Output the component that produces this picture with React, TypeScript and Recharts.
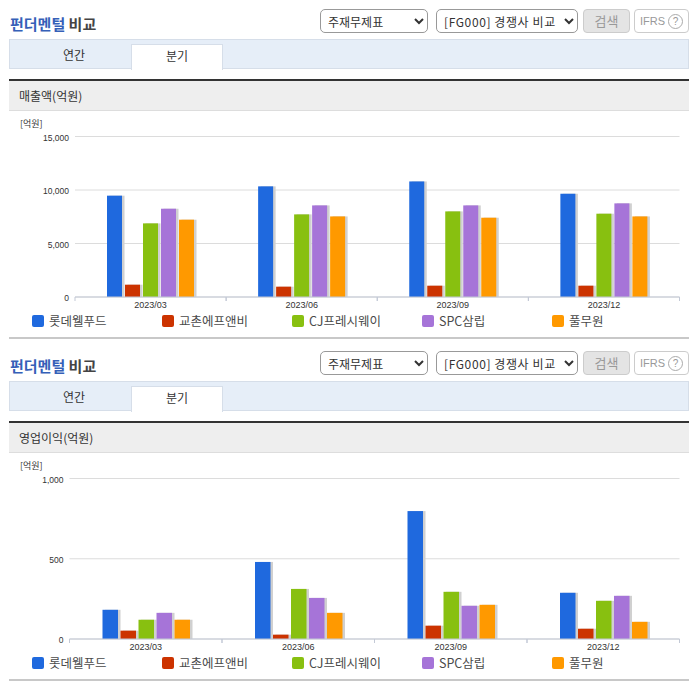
import { BarChart, Bar, XAxis, YAxis, CartesianGrid, Legend } from "recharts";

const FONT = '"Noto Sans CJK KR", "Noto Sans", sans-serif';
const TICK_FONT = '"Liberation Sans", Arial, sans-serif';

const QUARTERS = ["2023/03", "2023/06", "2023/09", "2023/12"];
const COMPANIES = ["롯데웰푸드", "교촌에프앤비", "CJ프레시웨이", "SPC삼립", "풀무원"];
const COLORS = ["#1f69de", "#cc3300", "#88c010", "#a674d8", "#ff9900"];
const LEGEND_X = [32, 162, 292, 422, 552];

const salesLotte = [9470, 10340, 10800, 9650];
const salesKyochon = [1150, 965, 1056, 1056];
const salesCj = [6880, 7720, 8000, 7785];
const salesSpc = [8250, 8560, 8560, 8750];
const salesPulmuone = [7225, 7530, 7410, 7530];
const salesTicks = [0, 5000, 10000, 15000];

const profitLotte = [182, 480, 797, 288];
const profitKyochon = [52, 27, 83, 64];
const profitCj = [120, 312, 294, 238];
const profitSpc = [163, 256, 207, 269];
const profitPulmuone = [120, 163, 213, 107];
const profitTicks = [0, 500, 1000];

const toRows = (series: number[][]) =>
  QUARTERS.map((q, i) => {
    const row: Record<string, string | number> = { quarter: q };
    COMPANIES.forEach((c, j) => {
      row[c] = series[j][i];
    });
    return row;
  });

const ShadowBar = (p: any) => (
  <g>
    <rect x={p.x + 2.5} y={p.y} width={p.width} height={p.height} fill="#d0d0d0" />
    <rect x={p.x} y={p.y} width={p.width} height={p.height} fill={p.fill} />
  </g>
);

const BandTick = ({ x, y, payload, band }: any) => (
  <g>
    <line x1={x - band / 2} x2={x - band / 2} y1={y - 8} y2={y - 4} stroke="#c3c9d6" />
    <line x1={x + band / 2} x2={x + band / 2} y1={y - 8} y2={y - 4} stroke="#c3c9d6" />
    <text x={x} y={y + 3} textAnchor="middle" fontSize={9} fill="#333" fontFamily={TICK_FONT}>
      {payload.value}
    </text>
  </g>
);

const LegendRow = () => (
  <div style={{ position: "relative", height: 23, fontFamily: FONT, fontSize: 12.5, color: "#4a4a4a" }}>
    {COMPANIES.map((c, i) => (
      <div key={c} style={{ position: "absolute", left: LEGEND_X[i], top: -6, display: "flex", alignItems: "center", whiteSpace: "nowrap" }}>
        <span style={{ width: 12, height: 12, borderRadius: 2, background: COLORS[i], marginRight: 5 }} />
        {c}
      </div>
    ))}
  </div>
);

const ChartBlock = ({ data, ticks, left, barSize, barGap }: { data: any[]; ticks: number[]; left: number; barSize: number; barGap: number }) => {
  const right = 16.5;
  const band = (696 - left - right) / QUARTERS.length;
  return (
    <BarChart
      width={696}
      height={228}
      data={data}
      barSize={barSize}
      barGap={barGap}
      margin={{ top: 24.5, right, bottom: 0, left: 0 }}
      style={{ position: "absolute", left: 0, top: 112 }}
    >
      <CartesianGrid horizontal vertical={false} stroke="#dcdcdc" />
      <XAxis
        dataKey="quarter"
        height={20}
        axisLine={{ stroke: "#c3c9d6" }}
        tickLine={false}
        interval={0}
        tick={<BandTick band={band} />}
      />
      <YAxis
        width={left}
        domain={[ticks[0], ticks[ticks.length - 1]]}
        ticks={ticks}
        axisLine={false}
        tickLine={false}
        tickMargin={0}
        tick={{ fontSize: 8.5, fill: "#333", fontFamily: TICK_FONT, dy: 1 }}
        tickFormatter={(v: number) => v.toLocaleString("en-US")}
      />
      {COMPANIES.map((c, i) => (
        <Bar key={c} dataKey={c} fill={COLORS[i]} shape={ShadowBar} isAnimationActive={false} />
      ))}
      <Legend content={<LegendRow />} height={23} wrapperStyle={{ left: 0, width: 696, margin: 0 }} />
    </BarChart>
  );
};

const Section = ({ top, label, data, ticks, left, barSize, barGap }: { top: number; label: string; data: any[]; ticks: number[]; left: number; barSize: number; barGap: number }) => (
  <div style={{ position: "absolute", left: 0, top, width: 696, height: 342, fontFamily: FONT }}>
    <div style={{ position: "absolute", left: 10, top: 14, fontSize: 15, fontWeight: 700, lineHeight: "20px", color: "#444" }}>
      <span style={{ color: "#3560b8" }}>펀더멘털</span> 비교
    </div>
    <select style={{ position: "absolute", left: 320, top: 9, width: 108, height: 24, fontSize: 12, fontFamily: FONT, color: "#333", borderRadius: 5, border: "1px solid #999", background: "#fff", padding: "0 3px" }}>
      <option>주재무제표</option>
    </select>
    <select style={{ position: "absolute", left: 436, top: 9, width: 142, height: 24, fontSize: 12, letterSpacing: 0.6, fontFamily: FONT, color: "#333", borderRadius: 5, border: "1px solid #999", background: "#fff", padding: "0 3px" }}>
      <option>[FG000] 경쟁사 비교</option>
    </select>
    <div style={{ position: "absolute", left: 583, top: 9, width: 45, height: 22, border: "1px solid #ccc", borderRadius: 4, background: "#e4e4e4", color: "#999", fontSize: 13, lineHeight: "22px", textAlign: "center" }}>검색</div>
    <div style={{ position: "absolute", left: 634, top: 9, width: 53, height: 22, border: "1px solid #ccc", borderRadius: 4, color: "#999", fontSize: 11, fontFamily: TICK_FONT, lineHeight: "22px", textAlign: "center" }}>
      IFRS <span style={{ display: "inline-block", width: 13, height: 13, lineHeight: "13px", border: "1px solid #aaa", borderRadius: "50%", fontSize: 10 }}>?</span>
    </div>
    <div style={{ position: "absolute", left: 9, top: 39, width: 678, height: 28, background: "#e6eef8", border: "1px solid #d6dee9" }} />
    <div style={{ position: "absolute", left: 131, top: 44, width: 90, height: 25, background: "#fff", border: "1px solid #d6dee9", borderBottom: "none", fontSize: 12, color: "#333", lineHeight: "22px", textAlign: "center" }}>분기</div>
    <div style={{ position: "absolute", left: 9, top: 44, width: 130, fontSize: 12, color: "#333", lineHeight: "22px", textAlign: "center", height: 23 }}>연간</div>
    <div style={{ position: "absolute", left: 9, top: 79, width: 680, height: 2, background: "#333" }} />
    <div style={{ position: "absolute", left: 9, top: 81, width: 670, height: 29, paddingLeft: 10, background: "#eee", borderBottom: "1px solid #ddd", fontSize: 12, color: "#333", lineHeight: "29px" }}>{label}</div>
    <div style={{ position: "absolute", left: 20, top: 117, fontSize: 9, color: "#333", lineHeight: "13px" }}>[억원]</div>
    <ChartBlock data={data} ticks={ticks} left={left} barSize={barSize} barGap={barGap} />
    <div style={{ position: "absolute", left: 9, top: 337, width: 680, height: 2, background: "#c8c8c8" }} />
  </div>
);

export default function App() {
  const sales = toRows([salesLotte, salesKyochon, salesCj, salesSpc, salesPulmuone]);
  const profit = toRows([profitLotte, profitKyochon, profitCj, profitSpc, profitPulmuone]);
  return (
    <div style={{ position: "absolute", left: 0, top: 0, width: 696, height: 684, overflow: "hidden", background: "#fff" }}>
      <Section top={0} label="매출액(억원)" data={sales} ticks={salesTicks} left={75} barSize={15} barGap={3} />
      <Section top={342} label="영업이익(억원)" data={profit} ticks={profitTicks} left={69.5} barSize={15.5} barGap={2.5} />
    </div>
  );
}
